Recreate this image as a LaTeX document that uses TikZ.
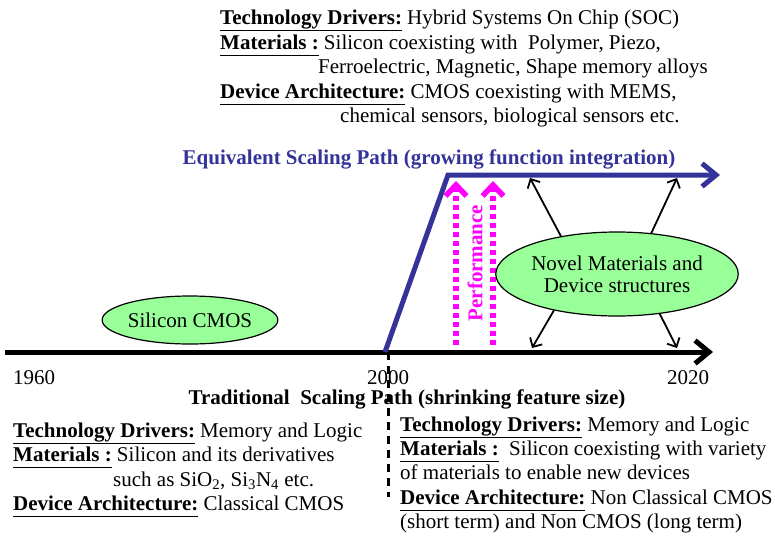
\documentclass[tikz,border=0pt]{standalone}
\usepackage{fontspec}
\setmainfont{Liberation Serif}
\usetikzlibrary{arrows.meta,shapes.geometric}
\definecolor{pathblue}{RGB}{51,51,153}
\definecolor{perfpink}{RGB}{255,0,255}
\definecolor{bubblegreen}{RGB}{153,255,153}
\newcommand{\hd}[1]{\underline{\textbf{#1}\vphantom{gy}}}

\begin{document}
\begin{tikzpicture}[x=1pt,y=-1pt,
  font=\fontsize{21}{24}\selectfont,
  txt/.style={anchor=base west, inner sep=0pt},
  bubble/.style={ellipse, draw, line width=1.2pt, fill=bubblegreen, inner sep=0pt},
  axis/.style={line width=5pt, -{Straight Barb[length=14pt,width=23pt]}},
  perf/.style={perfpink, line width=5.5pt, dash pattern=on 5pt off 4pt, -{Straight Barb[length=11pt,width=21pt]}},
  spoke/.style={line width=1.8pt, -{Straight Barb[length=7pt,width=14pt]}}]
\useasboundingbox (0,0) rectangle (775,541);

\node (T-1) at (220,24) [txt]{\hd{Technology Drivers:} Hybrid Systems On Chip (SOC)};
\node (T-2) at (220,49) [txt]{\hd{Materials :} Silicon coexisting with\ \ Polymer, Piezo,};
\node (T-3) at (318,73) [txt]{Ferroelectric, Magnetic, Shape memory alloys};
\node (T-4) at (220,98) [txt]{\hd{Device Architecture:} CMOS coexisting with MEMS,};
\node (T-5) at (340,122) [txt]{chemical sensors, biological sensors etc.};

\node (eq) at (429,164) [anchor=base, text=pathblue]{\textbf{Equivalent Scaling Path (growing function integration)}};

\coordinate (ax-0) at (5,352);
\coordinate (ax-1) at (713,352);
\draw [axis] (ax-0) -- (ax-1);

\coordinate (eq-0) at (385,352);
\coordinate (eq-1) at (448,175);
\coordinate (eq-2) at (720,175);
\draw [axis, pathblue] (eq-0) -- (eq-1) -- (eq-2);

\coordinate (y2000) at (388,352);
\coordinate (cut) at (388,497);
\draw [line width=3pt, dash pattern=on 8pt off 6pt] (y2000) -- (cut);

\node (y-1960) at (13,384) [txt]{1960};
\node (y-2000) at (388,384) [anchor=base]{2000};
\node (y-2020) at (688,384) [anchor=base]{2020};
\node (trad) at (407,404) [anchor=base]{\textbf{Traditional\ \ Scaling Path (shrinking feature size)}};

\coordinate (p-1a) at (456,345);
\coordinate (p-1b) at (456,181);
\coordinate (p-2a) at (493,345);
\coordinate (p-2b) at (493,181);
\draw [perf] (p-1a) -- (p-1b);
\draw [perf] (p-2a) -- (p-2b);
\node (perf) at (475,263) [rotate=90, text=perfpink]{\textbf{Performance}};

\node (Si) at (190,320) [bubble, minimum width=164pt, minimum height=48pt]{Silicon CMOS};
\node (Nov) at (617,274) [bubble, minimum width=200pt, minimum height=84pt, align=center]{Novel Materials and\\[-2pt]Device structures};

\coordinate (s-tl) at (530,178);
\coordinate (s-tr) at (677,178);
\coordinate (s-bl) at (532,348);
\coordinate (s-br) at (677,348);
\draw [spoke] (Nov.146) -- (s-tl);
\draw [spoke] (Nov.50) -- (s-tr);
\draw [spoke] (Nov.210) -- (s-bl);
\draw [spoke] (Nov.317) -- (s-br);

\node (L-1) at (13,437) [txt]{\hd{Technology Drivers:} Memory and Logic};
\node (L-2) at (13,461) [txt]{\hd{Materials :} Silicon and its derivatives};
\node (L-3) at (113,486) [txt]{such as SiO\textsubscript{2}, Si\textsubscript{3}N\textsubscript{4} etc.};
\node (L-4) at (13,510) [txt]{\hd{Device Architecture:} Classical CMOS};

\node (R-1) at (400,431) [txt]{\hd{Technology Drivers:} Memory and Logic};
\node (R-2) at (400,455) [txt]{\hd{Materials :}\ \ Silicon coexisting with variety};
\node (R-3) at (400,479) [txt]{of materials to enable new devices};
\node (R-4) at (400,504) [txt]{\hd{Device Architecture:} Non Classical CMOS};
\node (R-5) at (400,528) [txt]{(short term) and Non CMOS (long term)};
\end{tikzpicture}
\end{document}
